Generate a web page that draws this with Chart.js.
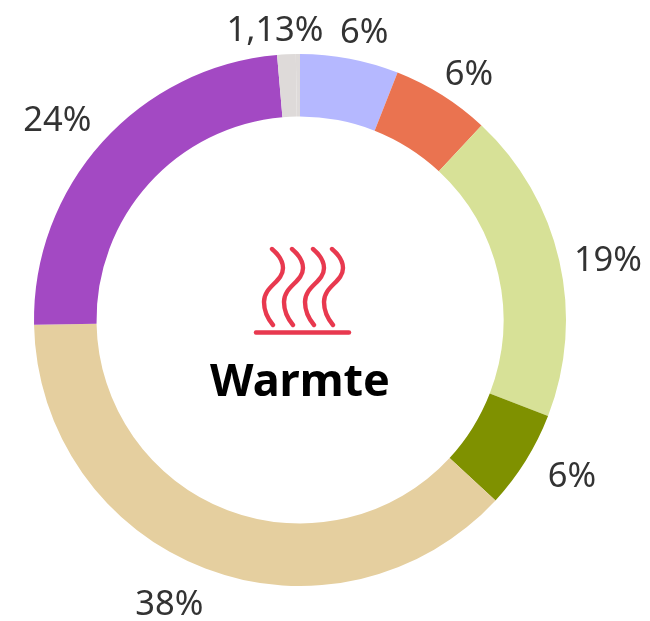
<!DOCTYPE html>
<html>
<head>
<meta charset="utf-8">
<title>Warmte</title>
<style>
  html, body { margin: 0; padding: 0; background: #fff; overflow: hidden; }
  .wrap { position: relative; width: 650px; height: 621px; }
  #icon { position: absolute; left: 0; top: 0; }
</style>
</head>
<body>
<div class="wrap">
  <canvas id="donut" width="650" height="621"></canvas>
  <svg id="icon" width="650" height="621" fill="none" stroke="#e8394f" stroke-linecap="round">
    <defs>
      <path id="wave" stroke-width="4.4" d="M272 249C279 255 283 261 283 268C283 282 264 286 264 302C264 311 268 319 273 325"/>
    </defs>
    <use href="#wave"/>
    <use href="#wave" x="20"/>
    <use href="#wave" x="41"/>
    <use href="#wave" x="60"/>
    <path stroke-width="4.4" d="M256 332.5H349"/>
  </svg>
</div>
<script src="https://cdn.jsdelivr.net/npm/chart.js"></script>
<script>
  const labels = ['6%', '6%', '19%', '6%', '38%', '24%', '1,13%', ''];
  const values = [6, 6, 19, 6, 38, 24, 1.13, 0.25];
  const colors = ['#b5b8ff', '#ea7350', '#d7e197', '#7f9100', '#e5cf9f', '#a349c3', '#dedad9', '#dedad9'];
  const title = 'Warmte';
  // hand placement of each label, relative to where the ring puts it
  const nudgeX = [9, 9, 2, 16, -23, -11, -10, 0];
  const nudgeY = [3, 9, 11, -2, 2, 10, 6, 0];

  // percentage labels around the ring, pushed out by the size of the text
  const outerLabels = {
    id: 'outerLabels',
    afterDatasetsDraw(chart) {
      const ctx = chart.ctx;
      ctx.save();
      ctx.font = '34.5px "Noto Sans"';
      ctx.fillStyle = '#333333';
      ctx.textAlign = 'center';
      ctx.textBaseline = 'middle';
      chart.getDatasetMeta(0).data.forEach((arc, i) => {
        if (!labels[i]) return;
        const p = arc.getProps(['x', 'y', 'startAngle', 'endAngle', 'outerRadius'], true);
        const mid = (p.startAngle + p.endAngle) / 2;
        const halfW = 32 + (labels[i].length - 3) * 14;
        const r = p.outerRadius + 14 + halfW * Math.abs(Math.cos(mid)) + 12 * Math.abs(Math.sin(mid));
        ctx.fillText(labels[i], p.x + r * Math.cos(mid) + nudgeX[i], p.y + r * Math.sin(mid) + nudgeY[i]);
      });
      // centre title
      const first = chart.getDatasetMeta(0).data[0];
      ctx.font = 'bold 45px "Noto Sans"';
      ctx.fillStyle = '#000000';
      ctx.fillText(title, first.x, first.y + 63);
      ctx.restore();
    }
  };

  new Chart(document.getElementById('donut'), {
    type: 'doughnut',
    data: {
      labels: labels,
      datasets: [{
        data: values,
        backgroundColor: colors,
        borderWidth: 0
      }]
    },
    options: {
      responsive: false,
      animation: false,
      cutout: '76.5%',
      layout: { padding: { left: 34, right: 84, top: 54, bottom: 35 } },
      plugins: {
        legend: { display: false },
        tooltip: { enabled: false }
      }
    },
    plugins: [outerLabels]
  });
</script>
</body>
</html>
